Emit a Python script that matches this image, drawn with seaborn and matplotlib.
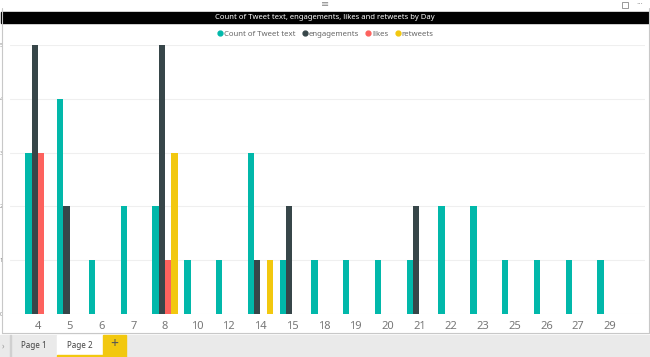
import matplotlib
matplotlib.use("Agg")
import matplotlib.pyplot as plt
import seaborn as sns
import pandas as pd
from matplotlib.patches import Rectangle
from matplotlib.lines import Line2D

days = ["4", "5", "6", "7", "8", "10", "12", "14", "15", "18", "19", "20", "21", "22", "23", "25", "26", "27", "29"]
count_tweet = [3, 4, 1, 2, 2, 1, 1, 3, 1, 1, 1, 1, 1, 2, 2, 1, 1, 1, 1]
engagements = [5, 2, 0, 0, 5, 0, 0, 1, 2, 0, 0, 0, 2, 0, 0, 0, 0, 0, 0]
likes = [3, 0, 0, 0, 1, 0, 0, 0, 0, 0, 0, 0, 0, 0, 0, 0, 0, 0, 0]
retweets = [0, 0, 0, 0, 3, 0, 0, 1, 0, 0, 0, 0, 0, 0, 0, 0, 0, 0, 0]
series_names = ["Count of Tweet text", "engagements", "likes", "retweets"]
colors = ["#01B8AA", "#374649", "#FD625E", "#F2C80F"]
y_ticks = [0, 1, 2, 3, 4, 5]
title = "Count of Tweet text, engagements, likes and retweets by Day"

rows = []
for name, vals in zip(series_names, [count_tweet, engagements, likes, retweets]):
    for d, v in zip(days, vals):
        rows.append({"Day": d, "Series": name, "Value": v})
df = pd.DataFrame(rows)

sns.set_theme(style="white")
plt.rcParams["font.family"] = ["Noto Sans", "DejaVu Sans"]

W, H = 650, 357
fig = plt.figure(figsize=(6.5, 3.57), dpi=100)
fig.patch.set_facecolor("white")

def fx(px):
    return px / W

def fy(py):
    return 1 - py / H

# chrome: bottom tab bar
fig.patches.append(Rectangle((0, 0), 1, fy(335), transform=fig.transFigure, color="#EAEAEA", zorder=0))
fig.patches.append(Rectangle((fx(57), 0), fx(46), fy(335), transform=fig.transFigure, color="white", zorder=1))
fig.patches.append(Rectangle((fx(57), 0), fx(46), fy(355), transform=fig.transFigure, color="#F2C80F", zorder=1))
fig.patches.append(Rectangle((fx(103), 0), fx(23), fy(335), transform=fig.transFigure, color="#F2C80F", zorder=1))
fig.patches.append(Rectangle((fx(10), 0), fx(0.8), fy(335), transform=fig.transFigure, color="#D0D0D0", zorder=1))
fig.text(fx(34), fy(346), "Page 1", fontsize=5.8, color="#444444", ha="center", va="center")
fig.text(fx(80), fy(346), "Page 2", fontsize=5.8, color="#444444", ha="center", va="center")
fig.text(fx(114.5), fy(345), "+", fontsize=10, color="#555555", ha="center", va="center", fontweight="bold")
fig.text(fx(3), fy(346), "›", fontsize=6, color="#999999", ha="center", va="center")

# visual border
fig.lines.append(Line2D([fx(1.5), fx(1.5)], [fy(8), fy(333)], transform=fig.transFigure, color="#C8C8C8", lw=0.8))
fig.lines.append(Line2D([fx(648.5), fx(648.5)], [fy(8), fy(333)], transform=fig.transFigure, color="#C8C8C8", lw=0.8))
fig.lines.append(Line2D([fx(1.5), fx(648.5)], [fy(333), fy(333)], transform=fig.transFigure, color="#C8C8C8", lw=0.8))

# title bar
fig.patches.append(Rectangle((fx(1), fy(23)), fx(648), fy(12) - fy(23), transform=fig.transFigure, color="black", zorder=1))
fig.text(0.5, fy(17.5), title, fontsize=5.5, color="white", ha="center", va="center", zorder=2)
fig.text(0.5, fy(4), "≡", fontsize=7, color="#888888", ha="center", va="center")
fig.text(fx(640), fy(4.5), "···", fontsize=6, color="#777777", ha="center", va="center")
fig.patches.append(Rectangle((fx(622), fy(8)), fx(6), fy(2) - fy(8), transform=fig.transFigure, fill=False, ec="#888888", lw=0.6))

ax = fig.add_axes([fx(10), fy(314), fx(635), fy(45) - fy(314)])
sns.barplot(data=df, x="Day", y="Value", hue="Series", palette=colors,
            hue_order=series_names, order=days, width=0.8, ax=ax,
            errorbar=None, legend=False, saturation=1, linewidth=0)
ax.set_ylim(0, 5)
ax.set_xlim(-0.88, len(days) - 1 + 1.1)
ax.set_yticks(y_ticks)
ax.yaxis.grid(True, color="#EFEFEF", lw=0.8)
ax.set_axisbelow(True)
for s in ax.spines.values():
    s.set_visible(False)
ax.set_xlabel("")
ax.set_ylabel("")
ax.tick_params(axis="x", labelsize=8, colors="#777777", length=0, pad=5)
ax.tick_params(axis="y", labelsize=4, colors="#888888", length=0, pad=5)

# legend
handles = [Line2D([], [], marker="o", ls="", color=c, markersize=3.5) for c in colors]
fig.legend(handles, series_names, loc="center", bbox_to_anchor=(0.5, fy(34)), ncol=4,
           frameon=False, fontsize=5.6, labelcolor="#666666", handletextpad=0.0,
           columnspacing=0.8, handlelength=0.9)

fig.savefig("out.png", dpi=100)
